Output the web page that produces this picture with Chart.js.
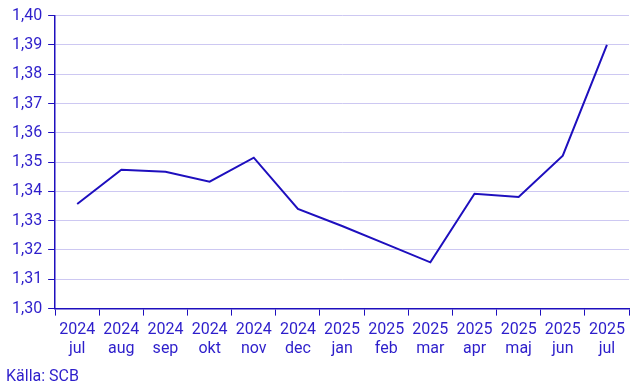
<!DOCTYPE html>
<html>
<head>
<meta charset="utf-8">
<script src="https://cdn.jsdelivr.net/npm/chart.js@4/dist/chart.umd.min.js"></script>
<style>
  html, body { margin: 0; padding: 0; background: #fff; }
  #wrap { width: 643px; height: 386px; position: relative; }
</style>
</head>
<body>
<div id="wrap"><canvas id="myChart"></canvas></div>
<script>
// values
var years = ['2024', '2024', '2024', '2024', '2024', '2024', '2025', '2025', '2025', '2025', '2025', '2025', '2025'];
var months = ['jul', 'aug', 'sep', 'okt', 'nov', 'dec', 'jan', 'feb', 'mar', 'apr', 'maj', 'jun', 'jul'];
var values = [1.3357, 1.3474, 1.3467, 1.3433, 1.3515, 1.3340, 1.3282, 1.3220, 1.3158, 1.3392, 1.3381, 1.3522, 1.3900];
var yTicks = [1.30, 1.31, 1.32, 1.33, 1.34, 1.35, 1.36, 1.37, 1.38, 1.39, 1.40];

var lineColor = '#1e0fbe';
var textColor = '#2d1ecb';
var gridColor = '#cdc8f2';

var labels = years.map(function(y, i) { return [y, months[i]]; });

var sourcePlugin = {
  id: 'source',
  afterDraw: function(chart) {
    var c = chart.ctx;
    c.save();
    c.font = '16px Roboto';
    c.fillStyle = textColor;
    c.textBaseline = 'alphabetic';
    c.fillText('Källa: SCB', 6, 381);
    c.restore();
  }
};

var ctx = document.getElementById('myChart');
var myChart = new Chart(ctx, {
  type: 'line',
  data: {
    labels: labels,
    datasets: [{
      data: values,
      borderColor: lineColor,
      borderWidth: 2,
      pointRadius: 0,
      tension: 0,
      fill: false
    }]
  },
  options: {
    responsive: true,
    maintainAspectRatio: false,
    animation: false,
    layout: { padding: { left: 6, right: 14, top: 13, bottom: 22 } },
    plugins: { legend: { display: false }, tooltip: { enabled: false } },
    scales: {
      x: {
        offset: true,
        border: { color: lineColor, width: 1.5 },
        grid: { drawOnChartArea: false, drawTicks: true, tickLength: 7, tickColor: lineColor, offset: true },
        ticks: { color: textColor, font: { family: 'Roboto', size: 16, lineHeight: 1.2 }, maxRotation: 0, autoSkip: false, padding: 5 }
      },
      y: {
        min: 1.30,
        max: 1.40,
        afterBuildTicks: function(axis) {
          axis.ticks = yTicks.map(function(v) { return { value: v }; });
        },
        border: { color: lineColor, width: 1.5 },
        grid: { color: gridColor, tickLength: 7, tickColor: lineColor },
        ticks: {
          color: textColor,
          font: { family: 'Roboto', size: 16 },
          padding: 6,
          callback: function(v) { return v.toFixed(2).replace('.', ','); }
        }
      }
    }
  },
  plugins: [sourcePlugin]
});
</script>
</body>
</html>
